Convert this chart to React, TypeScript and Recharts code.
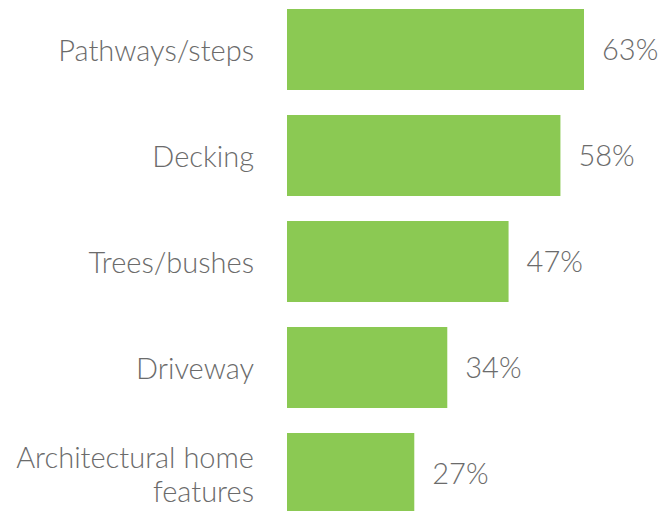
import React from "react";
import { BarChart, Bar, XAxis, YAxis, LabelList } from "recharts";

const categories = ["Pathways/steps", "Decking", "Trees/bushes", "Driveway", "Architectural home features"];
const tickLines = [["Pathways/steps"], ["Decking"], ["Trees/bushes"], ["Driveway"], ["Architectural home", "features"]];
const values = [63, 58, 47, 34, 27];

const data = categories.map((c, i) => ({ name: c, value: values[i] }));

const TEXT = "#6b6b6b";
const FONT = "Lato, 'Open Sans', sans-serif";
const FS = 29;

const Tick = (props: any) => {
  const { y, payload, index } = props;
  const lines = tickLines[index] || [payload.value];
  const lh = 34;
  const start = y - ((lines.length - 1) * lh) / 2;
  return (
    <text x={254} y={start} textAnchor="end" dominantBaseline="central" fill={TEXT} fontSize={FS} fontFamily={FONT} fontWeight={300}>
      {lines.map((l: string, i: number) => (
        <tspan key={i} x={254} y={start + i * lh} dominantBaseline="central">{l}</tspan>
      ))}
    </text>
  );
};

export default function App() {
  return (
    <div style={{ position: "absolute", left: 0, top: -4.5, width: 660, height: 530 }}>
      <BarChart
        width={660}
        height={530}
        data={data}
        layout="vertical"
        margin={{ top: 0, right: 43, bottom: 0, left: 0 }}
      >
        <XAxis type="number" domain={[0, 70]} hide />
        <YAxis
          type="category"
          dataKey="name"
          width={287}
          axisLine={false}
          tickLine={false}
          tick={<Tick />}
          interval={0}
        />
        <Bar dataKey="value" fill="#8bc953" barSize={81} isAnimationActive={false}>
          <LabelList
            dataKey="value"
            position="right"
            offset={18}
            formatter={(v: any) => `${v}%`}
            fill={TEXT}
            fontSize={FS}
            fontFamily={FONT}
            fontWeight={300}
          />
        </Bar>
      </BarChart>
    </div>
  );
}
